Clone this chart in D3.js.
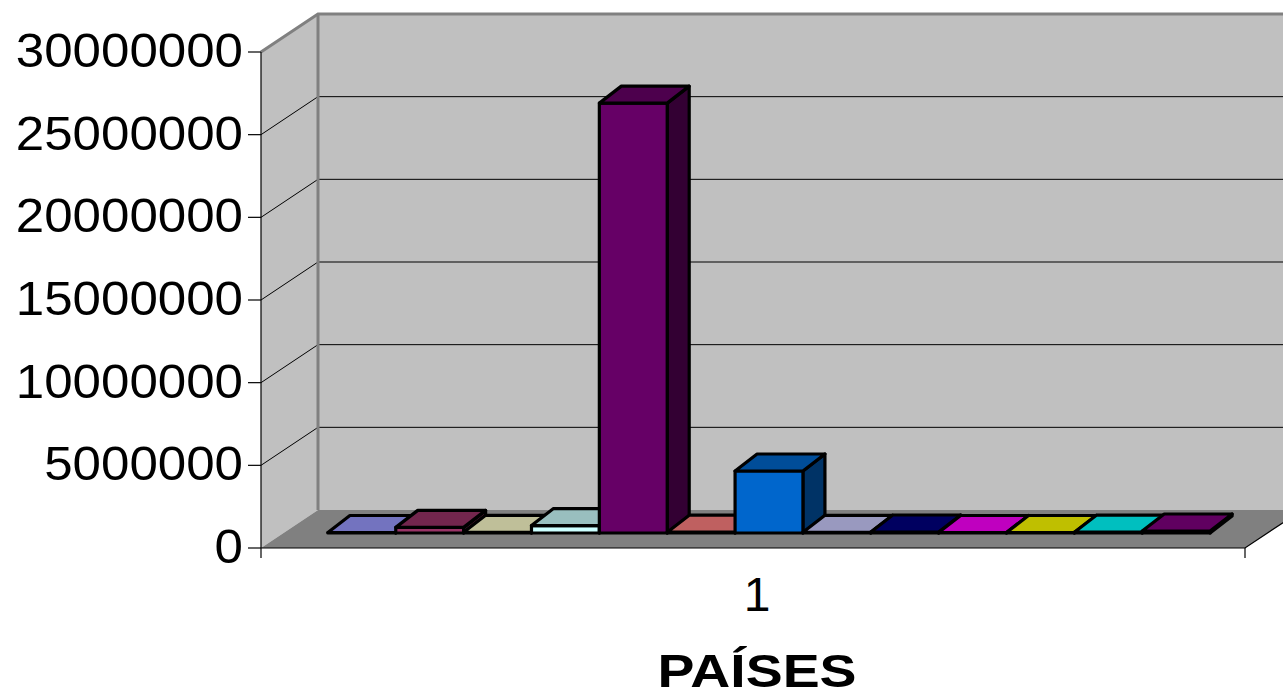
<!DOCTYPE html>
<html>
<head>
<meta charset="utf-8">
<script src="https://cdn.jsdelivr.net/npm/d3@7"></script>
<style>
  html, body { margin: 0; padding: 0; background: #ffffff; }
  svg { display: block; }
  text { font-family: "Liberation Sans", Arial, sans-serif; fill: #000; }
</style>
</head>
<body>
<svg id="chart" width="1283" height="697"></svg>
<script>
// ---- data ----
const categories = ["1"];
const seriesNames = ["Serie1", "Serie2", "Serie3", "Serie4", "Serie5", "Serie6", "Serie7",
                     "Serie8", "Serie9", "Serie10", "Serie11", "Serie12", "Serie13"];
const seriesValues = [30000, 340000, 40000, 450000, 26000000, 50000, 3750000,
                      40000, 60000, 30000, 30000, 50000, 120000];
const seriesColors = ["#9999FF", "#993366", "#FFFFCC", "#CCFFFF", "#660066", "#FF8080", "#0066CC",
                      "#CCCCFF", "#000080", "#FF00FF", "#FFFF00", "#00FFFF", "#800080"];
const yTicks = [0, 5000000, 10000000, 15000000, 20000000, 25000000, 30000000];
const axisTitle = "PAÍSES";

// ---- layout ----
const svg = d3.select("#chart");
const front = { left: 261, right: 1245, bottom: 548, top: 52 };  // front plane of the box
const depth = { dx: 57, dy: -38 };                                 // oblique offset to the back wall
const barOff = { dx: 16, dy: -15 };                                // front face of the columns
const barDepth = { dx: 22, dy: -17 };                              // depth of each column
const gapWidth = 1.5;                                              // gap between categories, in bar widths

const y = d3.scaleLinear().domain([0, 30000000]).range([front.bottom, front.top]);
const xCat = d3.scaleBand().domain(categories).range([front.left, front.right]);
const nS = seriesNames.length;
const barW = xCat.bandwidth() / (nS + gapWidth);
const xSer = d3.scaleBand().domain(seriesNames)
  .range([xCat(categories[0]) + barW * gapWidth / 2, xCat(categories[0]) + xCat.bandwidth() - barW * gapWidth / 2]);

const shade = (c, k) => { const r = d3.rgb(c); return d3.rgb(r.r * k, r.g * k, r.b * k).formatHex(); };
const pts = a => a.map(p => p.join(",")).join(" ");

// clip to drawing area
svg.append("defs").append("clipPath").attr("id", "clip")
  .append("rect").attr("x", 0).attr("y", 0).attr("width", 1283).attr("height", 697);
const g = svg.append("g").attr("clip-path", "url(#clip)");

const backL = front.left + depth.dx, backR = front.right + depth.dx;
const yb = v => y(v) + depth.dy;

// back wall
g.append("polygon")
  .attr("points", pts([[backL, yb(30000000)], [backR, yb(30000000)], [backR, yb(0)], [backL, yb(0)]]))
  .attr("fill", "#C0C0C0");
// left wall
g.append("polygon")
  .attr("points", pts([[front.left, y(0)], [front.left, y(30000000)], [backL, yb(30000000)], [backL, yb(0)]]))
  .attr("fill", "#C0C0C0");

// gridlines on both walls
yTicks.filter(t => t > 0 && t < 30000000).forEach(t => {
  g.append("line").attr("x1", backL).attr("x2", backR).attr("y1", yb(t)).attr("y2", yb(t))
    .attr("stroke", "#000").attr("stroke-width", 1);
  g.append("line").attr("x1", front.left).attr("y1", y(t)).attr("x2", backL).attr("y2", yb(t))
    .attr("stroke", "#000").attr("stroke-width", 1);
});

// wall borders
g.append("polyline")
  .attr("points", pts([[front.left, y(30000000)], [backL, yb(30000000)], [backR, yb(30000000)]]))
  .attr("fill", "none").attr("stroke", "#808080").attr("stroke-width", 3);
g.append("line").attr("x1", backL).attr("x2", backL).attr("y1", yb(30000000)).attr("y2", yb(0))
  .attr("stroke", "#808080").attr("stroke-width", 3);

// floor
g.append("polygon")
  .attr("points", pts([[front.left, y(0)], [front.right, y(0)], [backR, yb(0)], [backL, yb(0)]]))
  .attr("fill", "#808080");
g.append("polyline")
  .attr("points", pts([[front.left, y(0)], [front.right, y(0)], [backR, yb(0)]]))
  .attr("fill", "none").attr("stroke", "#000").attr("stroke-width", 1.2);

// value axis
g.append("line").attr("x1", front.left).attr("x2", front.left).attr("y1", y(30000000)).attr("y2", y(0))
  .attr("stroke", "#000").attr("stroke-width", 1.2);
const fmt = d3.format("d");
yTicks.forEach(t => {
  g.append("line").attr("x1", front.left - 13).attr("x2", front.left).attr("y1", y(t)).attr("y2", y(t))
    .attr("stroke", "#000").attr("stroke-width", 1.2);
  const s = fmt(t);
  g.append("text").attr("x", front.left - 18).attr("y", y(t) + 15)
    .attr("text-anchor", "end").attr("font-size", 49)
    .attr("textLength", s.length * 28.4).attr("lengthAdjust", "spacingAndGlyphs")
    .text(s);
});

// category axis ticks and label
[front.left, front.right].forEach(xx => {
  g.append("line").attr("x1", xx).attr("x2", xx).attr("y1", y(0)).attr("y2", y(0) + 10)
    .attr("stroke", "#000").attr("stroke-width", 1.2);
});
categories.forEach(c => {
  g.append("text").attr("x", xCat(c) + xCat.bandwidth() / 2 + 4).attr("y", 611)
    .attr("text-anchor", "middle").attr("font-size", 48).text(c);
});
g.append("text").attr("x", xCat(categories[0]) + xCat.bandwidth() / 2 + 4).attr("y", 687)
  .attr("text-anchor", "middle").attr("font-size", 46).attr("font-weight", "bold")
  .attr("textLength", 199).attr("lengthAdjust", "spacingAndGlyphs")
  .text(axisTitle);

// columns, left to right so each covers its neighbour's side face
const bars = g.append("g");
seriesNames.forEach((name, i) => {
  const v = seriesValues[i];
  const x0 = xSer(name) + barOff.dx, x1 = x0 + xSer.bandwidth();
  const yBase = y(0) + barOff.dy, yTop = y(v) + barOff.dy;
  const dx = barDepth.dx, dy = barDepth.dy;
  const col = seriesColors[i];
  const bg = bars.append("g").attr("stroke", "#000").attr("stroke-width", 3.2).attr("stroke-linejoin", "round");
  // side face
  bg.append("polygon").attr("points", pts([[x1, yTop], [x1 + dx, yTop + dy], [x1 + dx, yBase + dy], [x1, yBase]]))
    .attr("fill", shade(col, 0.5));
  // front face
  bg.append("polygon").attr("points", pts([[x0, yTop], [x1, yTop], [x1, yBase], [x0, yBase]]))
    .attr("fill", col);
  // top face
  bg.append("polygon").attr("points", pts([[x0, yTop], [x1, yTop], [x1 + dx, yTop + dy], [x0 + dx, yTop + dy]]))
    .attr("fill", shade(col, 0.75));
});
</script>
</body>
</html>
